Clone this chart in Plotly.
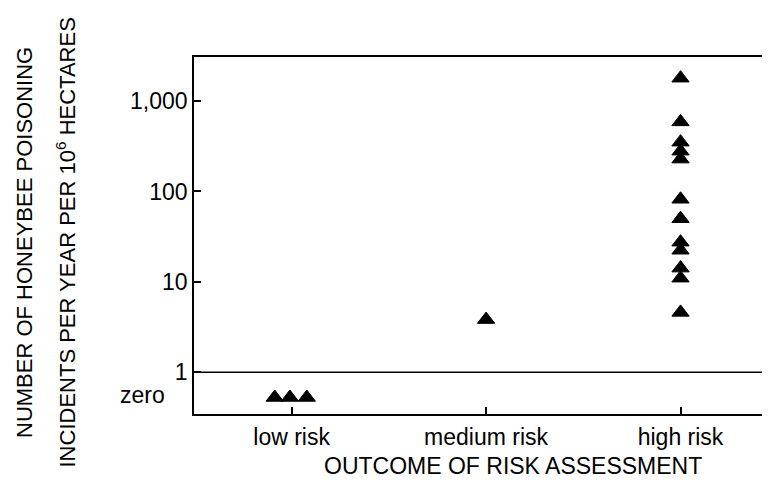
import numpy as np
import plotly.graph_objects as go

categories = ["low risk", "medium risk", "high risk"]
low_values = [0.527, 0.527, 0.527]
low_jitter = [-0.087, -0.009, 0.078]
medium_values = [3.83]
high_values = [1790, 588, 351, 279, 228, 82, 50, 27.5, 22.4, 14.2, 11.0, 4.6]
ytick_vals = [1, 10, 100, 1000]
ytick_text = ["1", "10", "100", "1,000"]
zero_label = "zero"
zero_value = 0.527

FONT = "Liberation Sans, Arial, Helvetica, sans-serif"
FS = 23

xs = [0 + j for j in low_jitter] + [1] * len(medium_values) + [2] * len(high_values)
ys = low_values + medium_values + high_values

fig = go.Figure()
fig.add_trace(go.Scatter(
    x=xs, y=ys, mode="markers",
    marker=dict(symbol="triangle-up", size=15, color="black",
                line=dict(color="black", width=1)),
    showlegend=False, hoverinfo="skip",
))

fig.add_hline(y=1, line=dict(color="black", width=1.5))

# page body has an 8px default margin: figure is sized/offset to compensate
fig.update_layout(
    width=762, height=471,
    margin=dict(l=186, r=0, t=49, b=65),
    paper_bgcolor="white", plot_bgcolor="white",
    font=dict(family=FONT, size=FS, color="black"),
    xaxis=dict(
        range=[-0.502, 2.46], tickvals=[0, 1, 2], ticktext=categories,
        ticks="inside", ticklen=7, tickwidth=1.5, tickcolor="black",
        showline=True, linecolor="black", linewidth=1.5, mirror=True,
        showgrid=False, zeroline=False,
        tickfont=dict(size=FS, family=FONT), ticklabelstandoff=2,
    ),
    yaxis=dict(
        type="log", range=[-0.461, 3.487],
        tickvals=ytick_vals, ticktext=ytick_text,
        ticks="inside", ticklen=7, tickwidth=1.5, tickcolor="black",
        showline=True, linecolor="black", linewidth=1.5, mirror=False,
        showgrid=False, zeroline=False,
        tickfont=dict(size=FS, family=FONT), ticklabelstandoff=0,
    ),
    annotations=[
        dict(text=zero_label, xref="paper", yref="y", x=0, y=np.log10(zero_value),
             xanchor="right", yanchor="middle", xshift=-27, yshift=2,
             showarrow=False, font=dict(size=FS, family=FONT)),
        dict(text="NUMBER OF HONEYBEE POISONING", xref="paper", yref="paper",
             x=0, y=0.5, xshift=-184, yshift=-7, textangle=-90,
             showarrow=False, font=dict(size=22, family=FONT)),
        dict(text="INCIDENTS PER YEAR PER 10<sup>6</sup> HECTARES", xref="paper", yref="paper",
             x=0, y=0.5, xshift=-145, yshift=-7, textangle=-90,
             showarrow=False, font=dict(size=22, family=FONT)),
        dict(text="OUTCOME OF RISK ASSESSMENT", xref="paper", yref="paper",
             x=0.553, y=0, yshift=-52, xanchor="center", yanchor="middle",
             showarrow=False, font=dict(size=FS, family=FONT)),
    ],
)

fig.write_html("out.html")
